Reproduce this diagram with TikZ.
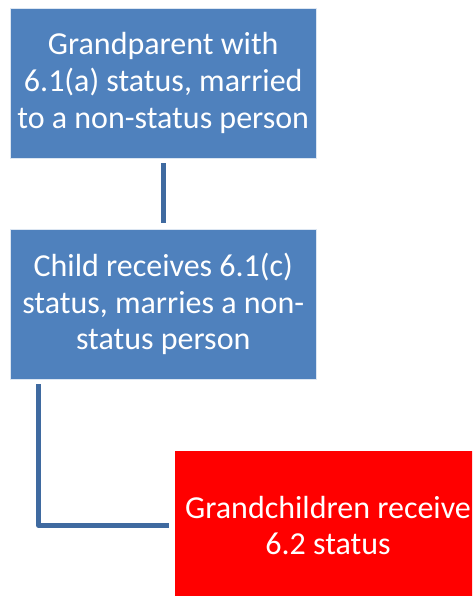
\documentclass[tikz,border=0pt]{standalone}
\usepackage{fontspec}
\setmainfont{Carlito}
\definecolor{boxblue}{HTML}{4F81BD}
\definecolor{boxred}{HTML}{FF0000}
\definecolor{linkblue}{HTML}{3F6AA0}
\begin{document}
\begin{tikzpicture}[x=1pt,y=-1pt,
  box/.style={rectangle, minimum width=305.5pt, minimum height=150pt, inner sep=0pt,
    text=white, align=center, font=\fontsize{32}{36.7}\selectfont, draw=white!80!boxblue, line width=0.6pt},
  bluebox/.style={box, fill=boxblue},
  redbox/.style={box, fill=boxred, draw=none},
  link/.style={draw=linkblue, line width=5pt, line join=round}]
\useasboundingbox (0,0) rectangle (472,596);
\clip (0,0) rectangle (472,596);
\node[bluebox] (gp) at (163.25,83) {Grandparent with\\6.1(a) status, married\\to a non-status person};
\node[bluebox] (ch) at (163.25,304) {Child receives 6.1(c)\\status, marries a non-\\status person};
\node[redbox] (gc) at (328,525.5) {Grandchildren receive\\6.2 status};
\draw[link, shorten <=5pt, shorten >=6pt] (gp.south) -- (ch.north);
\coordinate (chs) at ([xshift=28.5pt]ch.south west);
\draw[link, shorten <=5pt, shorten >=6pt] (chs) |- (gc.west);
\end{tikzpicture}
\end{document}
